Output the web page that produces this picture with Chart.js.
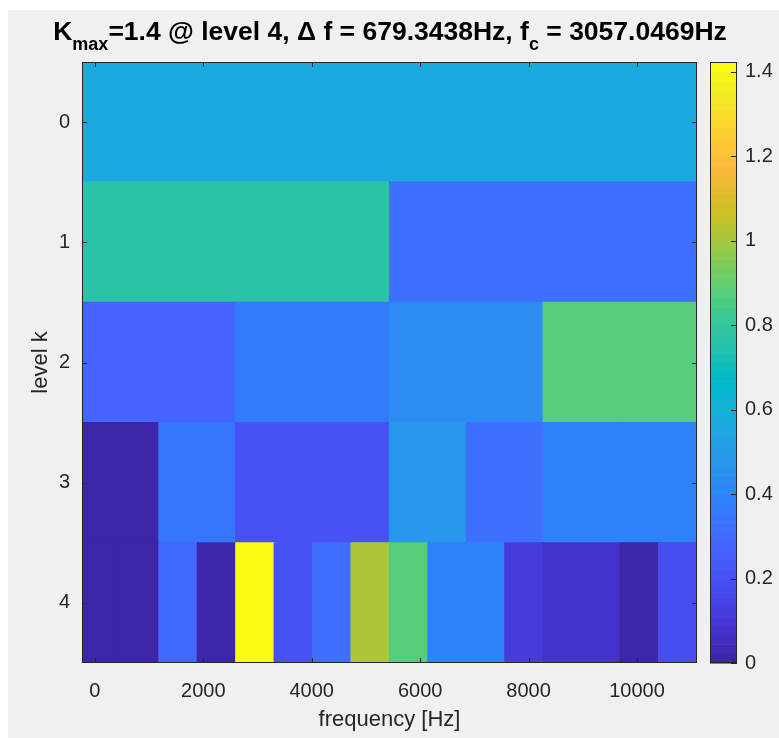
<!DOCTYPE html>
<html>
<head>
<meta charset="utf-8">
<script src="https://cdn.jsdelivr.net/npm/chart.js@4.4.0/dist/chart.umd.min.js"></script>
<style>
  html, body { margin: 0; padding: 0; background: #ffffff; }
</style>
</head>
<body>
<canvas id="kurtogram" width="779" height="738"></canvas>
<script>
// kurtosis per band, one array per decomposition level
const levels = ['0', '1', '2', '3', '4'];
const level0 = [0.567];
const level1 = [0.767, 0.322];
const level2 = [0.278, 0.367, 0.433, 0.878];
const level3 = [0.015, 0.345, 0.215, 0.215, 0.478, 0.322, 0.389, 0.389];
const level4 = [0.015, 0.015, 0.29, 0.02, 1.4229, 0.211, 0.33, 1.011,
                0.878, 0.389, 0.389, 0.122, 0.078, 0.075, 0.005, 0.189];
const kurtosis = [level0, level1, level2, level3, level4];

const xTicks = [0, 2000, 4000, 6000, 8000, 10000];
const cbTicks = [0, 0.2, 0.4, 0.6, 0.8, 1, 1.2, 1.4];

const fs = 21739;          // sampling rate [Hz]
const nColumns = 24;       // columns of the original image

const FONT = '"Liberation Sans", Arial, Helvetica, sans-serif';
const INK = '#262626';

// MATLAB parula, 64 entries
const parula = ['3e26a8','402ab4','422ec0','4332cb','4537d5','463cde','4741e5','4747eb',
  '484df0','4852f4','4758f8','465efb','4563fd','4269fe','3e6fff','3875fe',
  '327cfc','2f81fa','2e87f7','2d8cf3','2b91ef','2796eb','259be8','23a0e5',
  '20a5e3','1ca9df','18addb','12b1d6','08b5d0','01b8ca','02bac3','0bbdbd',
  '19bfb6','24c1ae','2cc4a7','31c69f','37c897','3fca8e','4acb84','57cc7a',
  '64cd6f','72cd64','81cc59','8fcb4e','9dc943','abc739','b9c431','c5c22a',
  'd1bf27','dcbd29','e6bb2d','f0ba36','f8ba3d','febe3c','fec338','fec934',
  'fccf30','fad62d','f7dc2a','f5e327','f5e924','f6ef20','f7f51b','f9fb15'].map(h => '#' + h);

const kMax = Math.max(...kurtosis.flat());
function colorFor(v) {
    const idx = Math.min(parula.length - 1, Math.max(0, Math.floor(v / kMax * parula.length)));
    return parula[idx];
}

// image extent as imagesc draws it: columns spread from 0 to fs/2, half a column beyond each end
const nyq = fs / 2;
const colStep = nyq / (nColumns - 1);
const fMin = -colStep / 2;
const fMax = nyq + colStep / 2;

const cells = [];
kurtosis.forEach((row, lev) => {
    const w = (fMax - fMin) / row.length;
    row.forEach((v, i) => {
        cells.push({ x: [fMin + i * w, fMin + (i + 1) * w], y: levels[lev], v: v });
    });
});

// where the maximum sits, for the title
let maxLevel = 0, maxIndex = 0;
kurtosis.forEach((row, lev) => row.forEach((v, i) => { if (v === kMax) { maxLevel = lev; maxIndex = i; } }));
const deltaF = nyq / Math.pow(2, maxLevel);
const fc = (maxIndex + 0.5) * deltaF;

const backgroundPlugin = {
    id: 'figureBackground',
    beforeDraw(chart) {
        const ctx = chart.ctx;
        ctx.save();
        ctx.fillStyle = '#ffffff';
        ctx.fillRect(0, 0, chart.width, chart.height);
        ctx.fillStyle = '#f0f0f0';
        ctx.fillRect(8, 10, chart.width - 8, chart.height - 10);
        ctx.restore();
    }
};

const boxPlugin = {
    id: 'matlabBox',
    afterDraw(chart) {
        const ctx = chart.ctx;
        const a = chart.chartArea;
        const sx = chart.scales.x, sy = chart.scales.y, cb = chart.scales.cb;
        const tick = 5;
        ctx.save();
        ctx.strokeStyle = INK;
        ctx.lineWidth = 1;
        // inward ticks on all four sides
        ctx.beginPath();
        sx.ticks.forEach((t, i) => {
            const px = Math.round(sx.getPixelForTick(i)) + 0.5;
            ctx.moveTo(px, a.bottom); ctx.lineTo(px, a.bottom - tick);
            ctx.moveTo(px, a.top); ctx.lineTo(px, a.top + tick);
        });
        sy.ticks.forEach((t, i) => {
            const py = Math.round(sy.getPixelForTick(i)) + 0.5;
            ctx.moveTo(a.left, py); ctx.lineTo(a.left + tick, py);
            ctx.moveTo(a.right, py); ctx.lineTo(a.right - tick, py);
        });
        ctx.stroke();
        ctx.strokeRect(Math.round(a.left) + 0.5, Math.round(a.top) + 0.5,
            Math.round(a.right - a.left) - 1, Math.round(a.bottom - a.top) - 1);

        // colour bar
        const x0 = cb.left + 13, x1 = cb.left + 40;
        const yTop = cb.getPixelForValue(kMax), yBot = cb.getPixelForValue(0);
        const n = parula.length;
        for (let i = 0; i < n; i++) {
            const ya = cb.getPixelForValue(kMax * i / n);
            const yb = cb.getPixelForValue(kMax * (i + 1) / n);
            ctx.fillStyle = parula[i];
            ctx.fillRect(x0, yb, x1 - x0, ya - yb + 0.6);
        }
        ctx.strokeRect(Math.round(x0) + 0.5, Math.round(yTop) + 0.5, Math.round(x1 - x0) - 1, Math.round(yBot - yTop) - 1);
        ctx.beginPath();
        cb.ticks.forEach((t, i) => {
            const py = Math.round(cb.getPixelForTick(i)) + 0.5;
            ctx.moveTo(x1, py); ctx.lineTo(x1 - 6, py);
        });
        ctx.stroke();

        // title with subscripts
        const big = 'bold 26.5px ' + FONT, small = 'bold 18px ' + FONT;
        const runs = [
            { t: 'K', sub: false },
            { t: 'max', sub: true },
            { t: '=' + kMax.toFixed(1) + ' @ level ' + levels[maxLevel] + ', \u0394 f = ' + deltaF.toFixed(4) + 'Hz, f', sub: false },
            { t: 'c', sub: true },
            { t: ' = ' + fc.toFixed(4) + 'Hz', sub: false }
        ];
        let total = 0;
        runs.forEach(r => { ctx.font = r.sub ? small : big; r.w = ctx.measureText(r.t).width; total += r.w; });
        let x = 390 - total / 2;
        ctx.fillStyle = '#000000';
        ctx.textBaseline = 'alphabetic';
        ctx.textAlign = 'left';
        runs.forEach(r => {
            ctx.font = r.sub ? small : big;
            ctx.fillText(r.t, x, r.sub ? 50 : 40);
            x += r.w;
        });
        ctx.restore();
    }
};

new Chart(document.getElementById('kurtogram'), {
    type: 'bar',
    data: {
        labels: levels,
        datasets: [{
            data: cells,
            backgroundColor: ctx => colorFor(ctx.raw.v),
            borderWidth: 0,
            borderSkipped: false,
            inflateAmount: 0.6,
            categoryPercentage: 1,
            barPercentage: 1
        }]
    },
    options: {
        indexAxis: 'y',
        responsive: false,
        animation: false,
        layout: { padding: { top: 62, left: 0, right: 0, bottom: 0 } },
        plugins: {
            legend: { display: false },
            tooltip: { enabled: false },
            title: { display: false }
        },
        scales: {
            x: {
                type: 'linear',
                position: 'bottom',
                min: fMin,
                max: fMax,
                grid: { display: false, drawTicks: false },
                border: { display: false },
                afterBuildTicks: s => { s.ticks = xTicks.map(v => ({ value: v })); },
                ticks: {
                    autoSkip: false,
                    maxRotation: 0,
                    padding: 16,
                    color: INK,
                    font: { family: FONT, size: 20 },
                    callback: v => String(v)
                },
                title: {
                    display: true,
                    text: 'frequency [Hz]',
                    color: INK,
                    font: { family: FONT, size: 22, lineHeight: 1.2 },
                    padding: { top: 0, bottom: 5 }
                },
                afterFit: s => { s.height = 75; }
            },
            y: {
                type: 'category',
                position: 'left',
                offset: true,
                grid: { display: false, drawTicks: false, offset: true },
                border: { display: false },
                ticks: {
                    padding: 12,
                    color: INK,
                    font: { family: FONT, size: 20 }
                },
                title: {
                    display: true,
                    text: 'level k',
                    color: INK,
                    font: { family: FONT, size: 22, lineHeight: 1.2 },
                    padding: { top: 28, bottom: 0 }
                },
                afterFit: s => { s.width = 82; }
            },
            cb: {
                type: 'linear',
                position: 'right',
                min: 0,
                max: kMax,
                offset: false,
                grid: { display: false, drawTicks: false, offset: false },
                border: { display: false },
                afterBuildTicks: s => { s.ticks = cbTicks.map(v => ({ value: v })); },
                ticks: {
                    padding: 48,
                    color: INK,
                    font: { family: FONT, size: 20 },
                    callback: v => String(v)
                },
                afterFit: s => { s.width = 82; }
            }
        }
    },
    plugins: [backgroundPlugin, boxPlugin]
});
</script>
</body>
</html>
